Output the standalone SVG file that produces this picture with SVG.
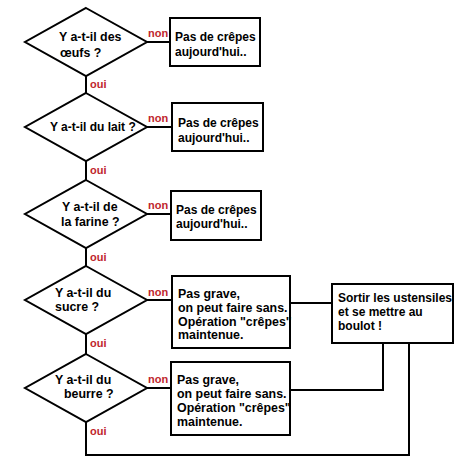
<svg xmlns="http://www.w3.org/2000/svg" width="467" height="474" viewBox="0 0 467 474">
<style>
.shape{fill:#fff;stroke:#000;stroke-width:2}
.line{fill:none;stroke:#000;stroke-width:2}
text{font-family:"Liberation Sans",Arial,sans-serif;font-weight:bold;font-size:12px;fill:#000}
.big{font-size:12.4px}
.lbl{font-size:11px;fill:#c0262d}
</style>
<rect width="467" height="474" fill="#fff"/>
<g id="connectors">
<path class="line" d="M147 42H170M147 127H172M147 214H171M147 300H172M147 388H171"/>
<path class="line" d="M86 76V93M86 161V180M86 248V266M86 334V354M86 422V455H409V343"/>
<path class="line" d="M290 303H332M290 390H383V343"/>
<text class="lbl" x="148" y="37">non</text>
<text class="lbl" x="148" y="122">non</text>
<text class="lbl" x="148" y="209">non</text>
<text class="lbl" x="148" y="296">non</text>
<text class="lbl" x="148" y="383">non</text>
<text class="lbl" x="90" y="88">oui</text>
<text class="lbl" x="90" y="174">oui</text>
<text class="lbl" x="90" y="261">oui</text>
<text class="lbl" x="90" y="347">oui</text>
<text class="lbl" x="90" y="435">oui</text>
</g>
<g id="d1"><polygon class="shape" points="86,8 147,42 86,76 25,42"/><text class="big" x="59" y="41">Y a-t-il des</text><text class="big" x="60" y="57">œufs ?</text></g>
<g id="b1"><rect class="shape" x="170" y="18" width="90" height="48"/><text x="175" y="41">Pas de crêpes</text><text x="175" y="56">aujourd'hui..</text></g>
<g id="d2"><polygon class="shape" points="86,93 147,127 86,161 25,127"/><text x="50" y="131">Y a-t-il du lait ?</text></g>
<g id="b2"><rect class="shape" x="172" y="103" width="91" height="48"/><text x="178" y="127">Pas de crêpes</text><text x="178" y="142">aujourd'hui..</text></g>
<g id="d3"><polygon class="shape" points="86,180 147,214 86,248 25,214"/><text class="big" x="62" y="211">Y a-t-il de</text><text class="big" x="61" y="226">la farine ?</text></g>
<g id="b3"><rect class="shape" x="171" y="191" width="90" height="49"/><text x="176" y="214">Pas de crêpes</text><text x="176" y="228">aujourd'hui..</text></g>
<g id="d4"><polygon class="shape" points="86,266 147,300 86,334 25,300"/><text class="big" x="55" y="297">Y a-t-il du</text><text class="big" x="55" y="311">sucre ?</text></g>
<g id="b4"><rect class="shape" x="172" y="276" width="118" height="72"/><text class="big" x="178" y="298">Pas grave,</text><text class="big" x="178" y="312">on peut faire sans.</text><text class="big" x="178" y="326">Opération "crêpes"</text><text class="big" x="178" y="339">maintenue.</text></g>
<g id="d5"><polygon class="shape" points="86,354 147,388 86,422 25,388"/><text class="big" x="55" y="384">Y a-t-il du</text><text class="big" x="64" y="398">beurre ?</text></g>
<g id="b5"><rect class="shape" x="171" y="362" width="119" height="73"/><text class="big" x="177" y="384">Pas grave,</text><text class="big" x="177" y="398">on peut faire sans.</text><text class="big" x="177" y="412">Opération "crêpes"</text><text class="big" x="177" y="426">maintenue.</text></g>
<g id="b6"><rect class="shape" x="332" y="284" width="121" height="59"/><text x="338" y="302">Sortir les ustensiles</text><text x="338" y="316">et se mettre au</text><text x="338" y="330">boulot !</text></g>
</svg>
